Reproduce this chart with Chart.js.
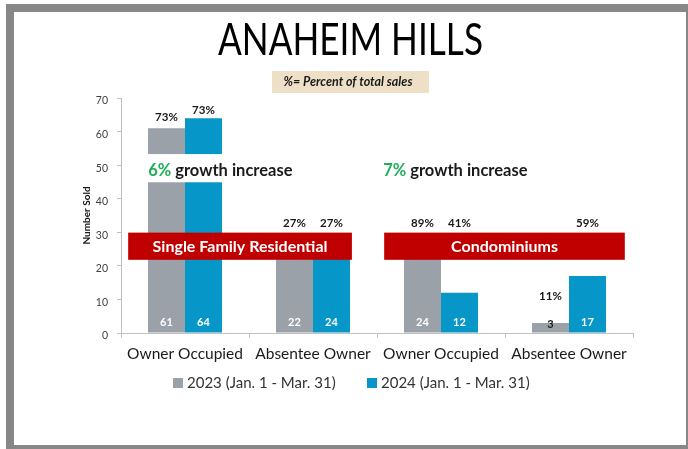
<!DOCTYPE html>
<html>
<head>
<meta charset="utf-8">
<script src="https://cdn.jsdelivr.net/npm/chart.js@4.4.1/dist/chart.umd.min.js"></script>
<style>
  html, body { margin: 0; padding: 0; background: #fff; }
  #wrap { position: relative; width: 688px; height: 449px; overflow: hidden; }
  #chart { position: absolute; left: 0; top: 0; }
  .frame { position: absolute; background: #878787; }
</style>
</head>
<body>
<div id="wrap">
  <canvas id="chart" width="688" height="449"></canvas>
  <div class="frame" style="left:6px;top:4px;width:8px;height:445px"></div>
  <div class="frame" style="left:6px;top:4px;width:682px;height:8px"></div>
  <div class="frame" style="left:686px;top:4px;width:2px;height:445px"></div>
  <div class="frame" style="left:6px;top:445px;width:682px;height:4px"></div>
</div>
<script>
// chart data
const categories = ["Owner Occupied", "Absentee Owner", "Owner Occupied", "Absentee Owner"];
const seriesNames = ["2023 (Jan. 1 - Mar. 31)", "2024 (Jan. 1 - Mar. 31)"];
const sold2023 = [61, 22, 24, 3];
const sold2024 = [64, 24, 12, 17];
const pct2023 = ["73%", "27%", "89%", "11%"];
const pct2024 = ["73%", "27%", "41%", "59%"];
const yTicks = [0, 10, 20, 30, 40, 50, 60, 70];

const titleText = "ANAHEIM HILLS";
const noteText = "%= Percent of total sales";
const banners = ["Single Family Residential", "Condominiums"];
const growthPct = ["6%", "7%"];

const GRAY = "#9aa1a9";
const BLUE = "#0796c8";
const RED = "#c00000";
const GREEN = "#1fae5c";
const FONT = "Lato, 'Open Sans', sans-serif";

// where the notes sit (x as fraction of the plot width, y in axis units)
const layoutNotes = {
  pctLevel2023: [null, 32.8, 32.8, 11],
  pctLevel2024: [null, 32.8, 32.8, 32.8],
  banner: [{ x0: 0.014, x1: 0.451 }, { x0: 0.514, x1: 0.984 }],
  bannerY: [29.9, 21.8],
  growth: [{ x: 0.053, y: 48.4 }, { x: 0.512, y: 48.4 }],
  whiteBand: [53.3, 44.9]
};

const notesPlugin = {
  id: "notes",
  beforeDraw(chart) {
    const ctx = chart.ctx;
    ctx.save();
    // title squeezed to match the narrow original face
    ctx.font = "45px " + FONT;
    ctx.fillStyle = "#000";
    ctx.textBaseline = "alphabetic";
    const w = ctx.measureText(titleText).width;
    ctx.translate(350.5, 55);
    ctx.scale(265 / w, 1);
    ctx.textAlign = "center";
    ctx.fillText(titleText, 0, 0);
    ctx.restore();

    ctx.save();
    ctx.fillStyle = "#ede0c7";
    ctx.fillRect(272, 71, 157, 22);
    ctx.fillStyle = "#1a1a1a";
    ctx.font = "italic bold 12.5px " + FONT;
    ctx.textAlign = "center";
    ctx.textBaseline = "middle";
    ctx.fillText(noteText, 348, 82);
    ctx.restore();
  },
  afterDatasetsDraw(chart) {
    const ctx = chart.ctx;
    const ys = chart.scales.y;
    const area = chart.chartArea;
    const px = f => area.left + f * (area.right - area.left);
    const m0 = chart.getDatasetMeta(0).data;
    const m1 = chart.getDatasetMeta(1).data;
    ctx.save();

    // white band behind first growth note
    ctx.fillStyle = "#fff";
    const bt = ys.getPixelForValue(layoutNotes.whiteBand[0]);
    const bb = ys.getPixelForValue(layoutNotes.whiteBand[1]);
    const bl = m0[0].x - m0[0].width / 2;
    ctx.fillRect(bl, bt, m1[0].x + m1[0].width / 2 - bl, bb - bt);

    // value labels at the bottom of each bar
    ctx.font = "bold 11px " + FONT;
    ctx.textAlign = "center";
    ctx.textBaseline = "middle";
    [[m0, sold2023], [m1, sold2024]].forEach(([bars, vals]) => {
      bars.forEach((b, i) => {
        ctx.fillStyle = vals[i] < 5 ? "#1a1a1a" : "#fff";
        ctx.fillText(String(vals[i]), b.x, b.base - (vals[i] < 5 ? 8 : 10));
      });
    });

    // percent labels
    ctx.fillStyle = "#1a1a1a";
    ctx.font = "bold 11.5px " + FONT;
    [[m0, pct2023, layoutNotes.pctLevel2023, 11], [m1, pct2024, layoutNotes.pctLevel2024, 8]].forEach(([bars, labels, lv, gap]) => {
      bars.forEach((b, i) => {
        const y = lv[i] === null ? b.y - gap : ys.getPixelForValue(lv[i]);
        ctx.fillText(labels[i], b.x, y);
      });
    });

    // red banners
    const yTop = ys.getPixelForValue(layoutNotes.bannerY[0]);
    const yBot = ys.getPixelForValue(layoutNotes.bannerY[1]);
    ctx.font = "bold 16px " + FONT;
    layoutNotes.banner.forEach((bn, i) => {
      const x0 = px(bn.x0), x1 = px(bn.x1);
      ctx.fillStyle = RED;
      ctx.fillRect(x0, yTop, x1 - x0, yBot - yTop);
      ctx.fillStyle = "#fff";
      ctx.fillText(banners[i], (x0 + x1) / 2, (yTop + yBot) / 2 + 1);
    });

    // growth notes
    ctx.font = "bold 16.5px " + FONT;
    ctx.textAlign = "left";
    layoutNotes.growth.forEach((g, i) => {
      const x = px(g.x), y = ys.getPixelForValue(g.y);
      ctx.fillStyle = GREEN;
      ctx.fillText(growthPct[i], x, y);
      const w = ctx.measureText(growthPct[i] + " ").width;
      ctx.fillStyle = "#1a1a1a";
      ctx.fillText("growth increase", x + w, y);
    });

    // legend
    ctx.font = "15px " + FONT;
    ctx.textBaseline = "middle";
    const legendX = [173, 367];
    chart.data.datasets.forEach((ds, i) => {
      ctx.fillStyle = ds.backgroundColor;
      ctx.fillRect(legendX[i], 378, 10, 10);
      ctx.fillStyle = "#333";
      ctx.fillText(ds.label, legendX[i] + 14, 383);
    });
    ctx.restore();
  }
};

new Chart(document.getElementById("chart"), {
  type: "bar",
  data: {
    labels: categories,
    datasets: [
      { label: seriesNames[0], data: sold2023, backgroundColor: GRAY },
      { label: seriesNames[1], data: sold2024, backgroundColor: BLUE }
    ]
  },
  options: {
    responsive: false,
    animation: false,
    devicePixelRatio: 1,
    layout: { padding: { left: 81, right: 55, top: 98, bottom: 0 } },
    datasets: { bar: { barPercentage: 1, categoryPercentage: 0.578 } },
    plugins: {
      legend: { display: false },
      tooltip: { enabled: false }
    },
    scales: {
      x: {
        grid: { offset: true, drawOnChartArea: false, tickLength: 5, color: "#bfbfbf" },
        border: { color: "#bfbfbf" },
        ticks: { color: "#1a1a1a", font: { family: FONT, size: 15.5 }, padding: 7, maxRotation: 0 },
        afterFit: s => { s.height = 116; }
      },
      y: {
        min: 0,
        max: 70,
        afterBuildTicks: s => { s.ticks = yTicks.map(v => ({ value: v })); },
        grid: { drawOnChartArea: false, tickLength: 4, color: "#bfbfbf" },
        border: { color: "#bfbfbf" },
        ticks: { color: "#404040", font: { family: FONT, size: 10.5 }, padding: 9, labelOffset: 3 },
        title: { display: true, text: "Number Sold", color: "#1a1a1a", font: { family: FONT, size: 10, weight: "bold" }, padding: 0 },
        afterFit: s => { s.width = 40; }
      }
    }
  },
  plugins: [notesPlugin]
});
</script>
</body>
</html>
